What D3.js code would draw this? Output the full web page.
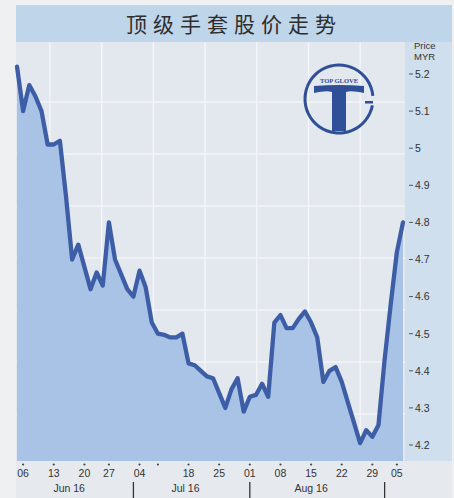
<!DOCTYPE html>
<html><head><meta charset="utf-8">
<script src="https://cdn.jsdelivr.net/npm/d3@7"></script>
<style>html,body{margin:0;padding:0;background:#eef0f2;}svg{display:block;}</style>
</head><body><svg id="c" width="454" height="498"></svg>
<script>
const title = "顶级手套股价走势";
const dates = [
 "2016-06-03","2016-06-06","2016-06-07","2016-06-08","2016-06-09","2016-06-10",
 "2016-06-13","2016-06-14","2016-06-15","2016-06-16","2016-06-17",
 "2016-06-20","2016-06-21","2016-06-23","2016-06-24",
 "2016-06-27","2016-06-28","2016-06-29","2016-06-30","2016-07-01",
 "2016-07-04","2016-07-05","2016-07-08",
 "2016-07-11","2016-07-12","2016-07-13","2016-07-14","2016-07-15",
 "2016-07-18","2016-07-19","2016-07-20","2016-07-21","2016-07-22",
 "2016-07-25","2016-07-26","2016-07-27","2016-07-28","2016-07-29",
 "2016-08-01","2016-08-02","2016-08-03","2016-08-04","2016-08-05",
 "2016-08-08","2016-08-09","2016-08-10","2016-08-11","2016-08-12",
 "2016-08-15","2016-08-16","2016-08-17","2016-08-18","2016-08-19",
 "2016-08-22","2016-08-23","2016-08-24","2016-08-25","2016-08-26",
 "2016-08-29","2016-08-30","2016-09-01","2016-09-02","2016-09-05","2016-09-06"
];
const prices = [
 5.22,5.10,5.17,5.14,5.10,5.01,
 5.01,5.02,4.87,4.70,4.74,
 4.68,4.62,4.665,4.63,
 4.80,4.70,4.66,4.62,4.60,
 4.67,4.625,4.53,
 4.50,4.497,4.49,4.49,4.50,
 4.42,4.415,4.40,4.385,4.38,
 4.34,4.30,4.35,4.38,4.29,
 4.33,4.335,4.365,4.33,4.53,
 4.55,4.515,4.515,4.54,4.56,
 4.53,4.49,4.37,4.40,4.41,
 4.37,4.315,4.26,4.205,4.24,
 4.222,4.254,4.43,4.58,4.72,4.80
];
const yTicks = [4.2,4.3,4.4,4.5,4.6,4.7,4.8,4.9,5.0,5.1,5.2];
const yTickLabels = ["4.2","4.3","4.4","4.5","4.6","4.7","4.8","4.9","5","5.1","5.2"];
const xTickDates = ["2016-06-06","2016-06-13","2016-06-20","2016-06-27","2016-07-04","2016-07-11","2016-07-18","2016-07-25","2016-08-01","2016-08-08","2016-08-15","2016-08-22","2016-08-29","2016-09-05"];
const xTickLabels = ["06","13","20","27","04","","18","25","01","08","15","22","29","05"];
const monthLabels = ["Jun 16","Jul 16","Aug 16"];
const monthFirst = ["2016-06-03","2016-07-01","2016-08-01"];
const monthLast = ["2016-06-30","2016-07-29","2016-08-30"];
const monthSeparators = ["2016-07-01","2016-08-01","2016-09-01"];
const unitLabels = ["Price","MYR"];

const svg = d3.select("#c");
const W = 454, H = 498;
const plot = {l:16, t:42, r:405, b:461};

svg.append("rect").attr("width",W).attr("height",H).attr("fill","#eef0f2");
svg.append("rect").attr("x",16).attr("y",5).attr("width",436).attr("height",37).attr("fill","#bfd5ea");
svg.append("rect").attr("x",plot.l).attr("y",plot.t).attr("width",plot.r-plot.l).attr("height",plot.b-plot.t).attr("fill","#e3e7ee");
svg.append("rect").attr("x",plot.r).attr("y",plot.t).attr("width",452-plot.r).attr("height",plot.b-plot.t).attr("fill","#cfdfee");
svg.append("rect").attr("x",16).attr("y",plot.b).attr("width",436).attr("height",H-plot.b).attr("fill","#e6eaef");

const g = svg.append("g").attr("stroke","#f3f5f8").attr("stroke-width",1.5);
d3.range(50, plot.r, 51.7).forEach(v=>g.append("line").attr("x1",v).attr("x2",v).attr("y1",plot.t).attr("y2",plot.b));
d3.range(102, plot.b, 52).forEach(v=>g.append("line").attr("x1",plot.l).attr("x2",plot.r).attr("y1",v).attr("y2",v));

svg.append("text").attr("x",234).attr("y",32).attr("text-anchor","middle")
  .attr("font-family","'Noto Sans CJK SC'").attr("font-size",21).attr("letter-spacing",6)
  .attr("fill","#2e2e2e").text(title);

const x = d3.scalePoint().domain(dates).range([17, 403]);
const y = d3.scaleLinear().domain([4.2,5.2]).range([445,74]);
const data = dates.map((d,i)=>({d, v:prices[i]}));

svg.append("path").datum(data)
  .attr("d", d3.area().x(p=>x(p.d)).y0(plot.b).y1(p=>y(p.v)))
  .attr("fill","#a8c3e6");
svg.append("path").datum(data)
  .attr("d", d3.line().x(p=>x(p.d)).y(p=>y(p.v)))
  .attr("fill","none").attr("stroke","#3d5ea7").attr("stroke-width",4.3)
  .attr("stroke-linejoin","round").attr("stroke-linecap","round");

const ya = svg.append("g").attr("font-family","'Liberation Sans', Arial, sans-serif").attr("fill","#333");
yTicks.forEach((t,i)=>{
  ya.append("line").attr("x1",409).attr("x2",413).attr("y1",y(t)).attr("y2",y(t)).attr("stroke","#555").attr("stroke-width",1);
  ya.append("text").attr("x",415).attr("y",y(t)+3.8).attr("font-size",10.5).text(yTickLabels[i]);
});
unitLabels.forEach((s,i)=>ya.append("text").attr("x",414).attr("y",49+i*11).attr("font-size",9.5).text(s));

const xa = svg.append("g").attr("font-family","'Liberation Sans', Arial, sans-serif").attr("fill","#333");
xTickDates.forEach((d,i)=>{
  xa.append("circle").attr("cx",x(d)).attr("cy",464.5).attr("r",1.1).attr("fill","#444");
  xa.append("text").attr("x",x(d)).attr("y",477).attr("text-anchor","middle").attr("font-size",10.5).text(xTickLabels[i]);
});
monthLabels.forEach((m,i)=>{
  const cx = (x(monthFirst[i]) + x(monthLast[i]))/2 - 3;
  xa.append("text").attr("x",cx).attr("y",492).attr("text-anchor","middle").attr("font-size",10.5).text(m);
});
monthSeparators.forEach(d=>{
  xa.append("line").attr("x1",x(d)).attr("x2",x(d)).attr("y1",482).attr("y2",498).attr("stroke","#333").attr("stroke-width",1.3);
});

const lg = svg.append("g").attr("transform","translate(339,99)");
const ring = d3.arc().innerRadius(32.5).outerRadius(35.5).startAngle(Math.PI*0.56).endAngle(Math.PI*2.47);
lg.append("path").attr("d",ring()).attr("fill","#2f4f98");
lg.append("rect").attr("x",26).attr("y",2).attr("width",8).attr("height",2.5).attr("fill","#2f4f98");
lg.append("path").attr("d","M-25,-13 Q0,-15 25,-13 L25,-6 Q12,-9 7,-7 L7,32 L-7,32 L-7,-7 Q-12,-9 -25,-6 Z").attr("fill","#2f4f98");
lg.append("text").attr("x",0).attr("y",-16).attr("text-anchor","middle").attr("font-family","'Liberation Serif', serif")
  .attr("font-weight","bold").attr("font-size",6.5).attr("fill","#2f4f98").text("TOP GLOVE");
</script></body></html>
